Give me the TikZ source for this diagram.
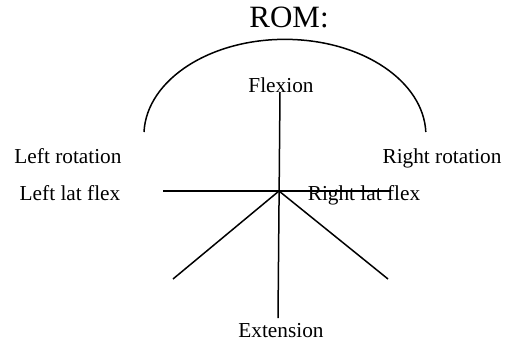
\documentclass[tikz,border=0pt]{standalone}
\usepackage{fontspec}
\setmainfont{Liberation Serif}
\begin{document}
\begin{tikzpicture}[x=1pt,y=-1pt,
  lbl/.style={anchor=base,inner sep=0pt,font=\fontsize{21.3}{25}\selectfont},
  ttl/.style={anchor=base,inner sep=0pt,font=\fontsize{31}{36}\selectfont},
  ln/.style={line width=1.5pt,black}]
\useasboundingbox (0,0) rectangle (514,343);
% texts
\node[ttl] (rom) at (289,27) {ROM:};
\node[lbl] (flex) at (281,92) {Flexion};
\node[lbl] (lrot) at (68,163) {Left rotation};
\node[lbl] (rrot) at (442,163) {Right rotation};
\node[lbl] (llat) at (70,200) {Left lat flex};
\node[lbl] (rlat) at (364,200) {Right lat flex};
\node[lbl] (ext) at (281,337) {Extension};
% coordinates
\coordinate (c) at (279,191);
\coordinate (vtop) at (280,92);
\coordinate (vbot) at (278,318);
\coordinate (hl) at (163,191);
\coordinate (hr) at (390,191);
\coordinate (dl) at (173,279);
\coordinate (dr) at (388,279);
\coordinate (al) at (144,132);
% lines
\draw[ln] (vtop) -- (vbot);
\draw[ln] (hl) -- (hr);
\draw[ln] (c) -- (dl);
\draw[ln] (c) -- (dr);
% arc
\draw[ln] (al) arc[start angle=178,end angle=2,x radius=141,y radius=-96];
\end{tikzpicture}
\end{document}
